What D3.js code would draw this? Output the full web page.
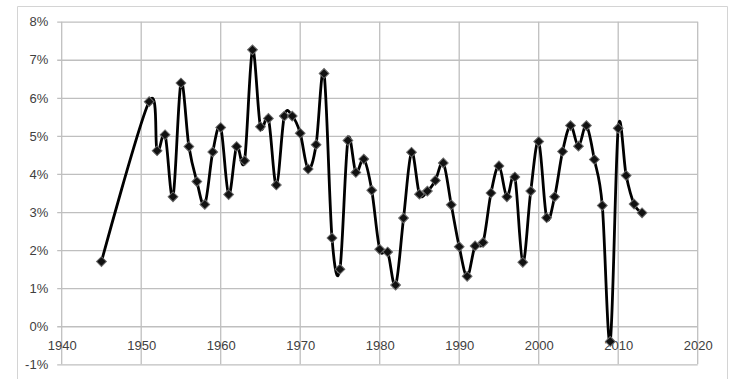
<!DOCTYPE html>
<html>
<head>
<meta charset="utf-8">
<script src="https://cdn.jsdelivr.net/npm/d3@7"></script>
<style>
	body { margin: 0; background: #fff; }
	svg { display: block; }
	.axis text { font-family: "Liberation Sans", Arial, sans-serif; font-size: 13px; fill: #404040; }
</style>
</head>
<body>
<svg width="746" height="391"></svg>
<script>
// growth rate by year (percent)
const years = [1945,
	1951, 1952, 1953, 1954, 1955, 1956, 1957, 1958, 1959, 1960,
	1961, 1962, 1963, 1964, 1965, 1966, 1967, 1968, 1969, 1970,
	1971, 1972, 1973, 1974, 1975, 1976, 1977, 1978, 1979, 1980,
	1981, 1982, 1983, 1984, 1985, 1986, 1987, 1988, 1989, 1990,
	1991, 1992, 1993, 1994, 1995, 1996, 1997, 1998, 1999, 2000,
	2001, 2002, 2003, 2004, 2005, 2006, 2007, 2008, 2009, 2010,
	2011, 2012, 2013];
const growth = [1.70,
	5.90, 4.61, 5.03, 3.40, 6.39, 4.72, 3.80, 3.20, 4.58, 5.22,
	3.46, 4.72, 4.35, 7.26, 5.24, 5.46, 3.71, 5.52, 5.52, 5.07,
	4.13, 4.77, 6.64, 2.32, 1.50, 4.88, 4.04, 4.39, 3.57, 2.02,
	1.95, 1.08, 2.84, 4.57, 3.47, 3.55, 3.83, 4.29, 3.19, 2.09,
	1.31, 2.11, 2.20, 3.50, 4.21, 3.40, 3.92, 1.68, 3.55, 4.85,
	2.85, 3.40, 4.59, 5.27, 4.73, 5.27, 4.38, 3.17, -0.40, 5.20,
	3.96, 3.21, 2.98];
const xTicks = [1940, 1950, 1960, 1970, 1980, 1990, 2000, 2010, 2020];
const yTicks = [-1, 0, 1, 2, 3, 4, 5, 6, 7, 8];

const svg = d3.select("svg");
const plotLeft = 61.7, plotRight = 697.7, plotTop = 21.7, plotBottom = 364.3;

const x = d3.scaleLinear().domain([1940, 2020]).range([plotLeft, plotRight]);
const y = d3.scaleLinear().domain([-1, 8]).range([plotBottom, plotTop]);

// outer chart frame (no bottom edge in the original)
svg.append("path")
	.attr("d", "M17.5,379V6.5H727.5V379")
	.attr("fill", "none")
	.attr("stroke", "#d4d4d4")
	.attr("stroke-width", 1);

// vertical gridlines
svg.append("g")
	.selectAll("line")
	.data(xTicks)
	.join("line")
	.attr("x1", (d) => x(d))
	.attr("x2", (d) => x(d))
	.attr("y1", plotTop)
	.attr("y2", plotBottom)
	.attr("stroke", "#bfbfbf")
	.attr("stroke-width", 1.3);

// y axis with horizontal gridlines
svg.append("g")
	.attr("class", "axis yaxis")
	.attr("transform", "translate(" + (plotLeft - 4.5) + ",0)")
	.call(
		d3.axisLeft(y)
			.tickValues(yTicks)
			.tickFormat((d) => d + "%")
			.tickSize(-(plotRight - plotLeft + 4.5))
			.tickSizeOuter(0)
			.tickPadding(9)
	)
	.call((g) => g.select(".domain").remove())
	.call((g) => g.selectAll(".tick line").attr("stroke", "#bfbfbf").attr("stroke-width", 1.3));

// x axis labels sit under the 0% line
svg.append("g")
	.attr("class", "axis xaxis")
	.attr("transform", "translate(0," + y(0) + ")")
	.call(
		d3.axisBottom(x)
			.tickValues(xTicks)
			.tickFormat(d3.format("d"))
			.tickSize(0)
			.tickPadding(15)
	)
	.call((g) => g.select(".domain").remove());

const data = years.map((yr, i) => ({ year: yr, value: growth[i] }));

// excel-style smoothing, roughly a uniform catmull-rom
const line = d3.line()
	.x((d) => x(d.year))
	.y((d) => y(d.value))
	.curve(d3.curveCatmullRom.alpha(0));

svg.append("path")
	.datum(data)
	.attr("fill", "none")
	.attr("stroke", "#000")
	.attr("stroke-width", 2.8)
	.attr("stroke-linejoin", "round")
	.attr("d", line);

svg.append("g")
	.selectAll("path")
	.data(data)
	.join("path")
	.attr("d", d3.symbol(d3.symbolSquare, 48))
	.attr("transform", (d) => "translate(" + x(d.year) + "," + y(d.value) + ") rotate(45)")
	.attr("fill", "#111")
	.attr("stroke", "#6a6a6a")
	.attr("stroke-width", 1);
</script>
</body>
</html>
